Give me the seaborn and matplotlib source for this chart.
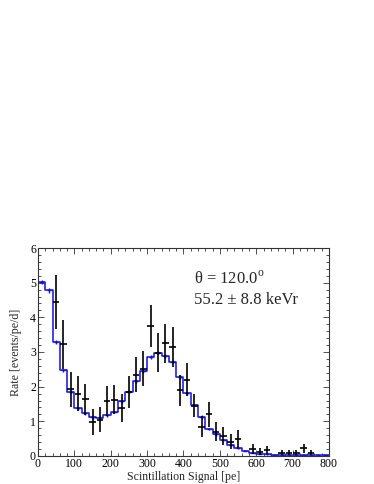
import numpy as np
import matplotlib
matplotlib.use("Agg")
import matplotlib.pyplot as plt
import seaborn as sns
from matplotlib.ticker import MultipleLocator

# Model histogram (bins of 20 pe from 0 to 800)
bin_edges = list(range(0, 820, 20))
model_rate = [5.02, 4.78, 3.30, 2.47, 1.85, 1.38, 1.23, 1.12, 1.10, 1.17,
              1.27, 1.58, 1.85, 2.15, 2.45, 2.85, 2.98, 2.88, 2.72, 2.28,
              1.81, 1.47, 1.13, 0.78, 0.62, 0.45, 0.32, 0.22, 0.15, 0.10,
              0.07, 0.05, 0.04, 0.03, 0.03, 0.02, 0.02, 0.02, 0.02, 0.02]
model_err = [0.07, 0.07, 0.06, 0.05, 0.04, 0.04, 0.04, 0.04, 0.04, 0.04,
             0.04, 0.04, 0.04, 0.05, 0.05, 0.05, 0.05, 0.05, 0.05, 0.05,
             0.04, 0.04, 0.04, 0.03, 0.03, 0.03, 0.02, 0.02, 0.02, 0.02,
             0.01, 0.01, 0.01, 0.01, 0.01, 0.01, 0.01, 0.01, 0.01, 0.01]

# Measured data points
data_x = [50, 70, 90, 110, 130, 150, 170, 190, 210, 230, 250, 270, 290, 310,
          330, 350, 370, 390, 410, 430, 450, 470, 490, 510, 530, 550, 590,
          610, 630, 670, 690, 710, 730, 750]
data_y = [4.43, 3.22, 1.92, 1.80, 1.63, 0.98, 1.05, 1.58, 1.62, 1.38, 1.85,
          2.35, 2.52, 3.75, 2.98, 3.25, 3.15, 1.90, 2.20, 1.45, 0.85, 1.20,
          0.70, 0.58, 0.41, 0.49, 0.20, 0.12, 0.17, 0.10, 0.10, 0.10, 0.22,
          0.10]
data_err = [0.78, 0.70, 0.50, 0.50, 0.45, 0.38, 0.36, 0.43, 0.42, 0.40, 0.47,
            0.50, 0.50, 0.62, 0.57, 0.57, 0.58, 0.45, 0.48, 0.33, 0.30, 0.35,
            0.28, 0.25, 0.22, 0.25, 0.14, 0.10, 0.12, 0.08, 0.08, 0.08, 0.12,
            0.08]

label_theta = "θ = 120.0$^{\\rm o}$"
label_energy = "55.2 ± 8.8 keVr"

sns.set_style("ticks")
plt.rcParams['font.family'] = ['Liberation Serif', 'DejaVu Serif']
plt.rcParams['mathtext.fontset'] = 'custom'
plt.rcParams['mathtext.rm'] = 'Liberation Serif'

fig = plt.figure(figsize=(3.74, 4.84), dpi=100)
ax = fig.add_axes([0.1016, 0.0579, 0.778, 0.4297])

centers = [(bin_edges[i] + bin_edges[i + 1]) / 2 for i in range(len(model_rate))]
sns.histplot(x=centers, weights=model_rate, bins=bin_edges, element="step",
             fill=False, color="#1010e0", linewidth=1.1, ax=ax)
ax.errorbar(centers, model_rate, yerr=model_err, xerr=6, fmt="none",
            ecolor="#1010e0", elinewidth=1.0)
ax.errorbar(data_x, data_y, yerr=data_err, xerr=9, fmt="none",
            ecolor="black", elinewidth=1.2)

ax.set_xlim(0, 800)
ax.set_ylim(0, 6)
ax.xaxis.set_major_locator(MultipleLocator(100))
ax.xaxis.set_minor_locator(MultipleLocator(20))
ax.yaxis.set_major_locator(MultipleLocator(1))
ax.yaxis.set_minor_locator(MultipleLocator(0.2))
ax.tick_params(which="both", direction="in", top=True, right=True,
               labelsize=8.5, pad=1.5, width=0.6, colors="#333333",
               labelcolor="black")
ax.tick_params(which="major", length=4.5)
ax.tick_params(which="minor", length=2.2)
for s in ax.spines.values():
    s.set_linewidth(0.8)
    s.set_color("#333333")

ax.set_xlabel("Scintillation Signal [pe]", fontsize=8.6, labelpad=1)
ax.set_ylabel("Rate [events/pe/d]", fontsize=8.6, labelpad=6)

ax.text(0.535, 0.83, label_theta, transform=ax.transAxes, fontsize=12)
ax.text(0.535, 0.73, label_energy, transform=ax.transAxes, fontsize=12)

fig.savefig("out.png", dpi=100)
